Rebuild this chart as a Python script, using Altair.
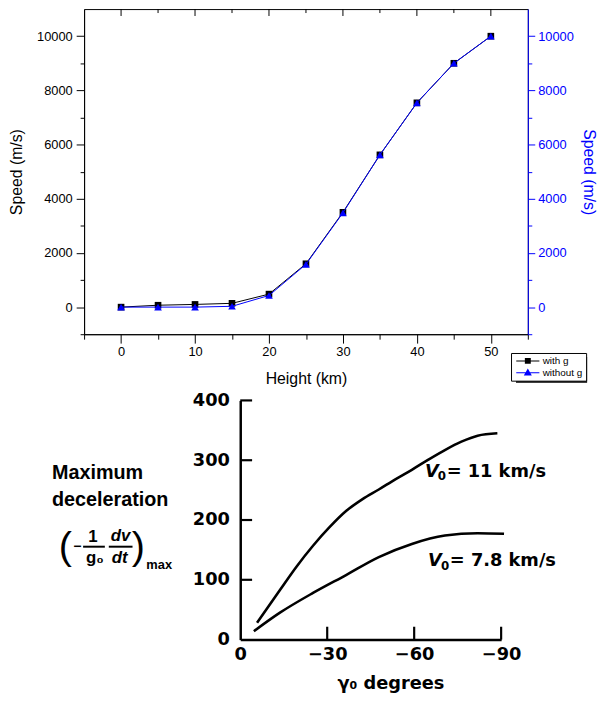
import altair as alt
import pandas as pd

# ---------------- top chart data ----------------
heights = [0, 5, 10, 15, 20, 25, 30, 35, 40, 45, 50]
speed_with_g = [0, 70, 100, 140, 480, 1600, 3500, 5620, 7540, 9000, 10000]
speed_without_g = [0, 0, 0, 30, 430, 1580, 3480, 5620, 7540, 9000, 10000]
series_names = ["with g", "without g"]
height_tick_values = [-5, 0, 5, 10, 15, 20, 25, 30, 35, 40, 45, 50, 55]
height_ticks_major = [0, 10, 20, 30, 40, 50]
height_ticks_minor = [5, 15, 25, 35, 45]
speed_tick_values = [-1000, 0, 1000, 2000, 3000, 4000, 5000, 6000, 7000, 8000, 9000, 10000]

# ---------------- bottom chart data ----------------
gamma_11 = [-5.8, -13.7, -19.4, -25.1, -30.8, -36.5, -42.2, -47.8, -53.5, -59.2, -64.9, -70.6, -76.3, -81.9, -88.7]
decel_11 = [28, 83, 122, 157, 188, 215, 235, 251, 268, 284, 301, 317, 331, 341, 345]
gamma_78 = [-4.7, -13.7, -25.1, -36.5, -47.8, -59.2, -70.6, -81.9, -91]
decel_78 = [14, 45, 78, 108, 138, 160, 174, 178, 177]
gamma_ticks = [0, -30, -60, -90]
decel_ticks = [0, 100, 200, 300, 400]
gamma_inner_ticks = [-30, -60, -90]
decel_inner_ticks = [100, 200, 300, 400]
curve_label_text = ["= 11 km/s", "= 7.8 km/s"]
curve_label_gamma = [-63.7, -64.8]
curve_label_decel = [281, 132]

FONT = "Liberation Sans"
BFONT = "DejaVu Sans"
BLUE = "#0000ff"
W, H = 449, 329
BW, BH = 449, 242

# ================= TOP CHART =================
df_with = pd.DataFrame({"height": heights, "speed": speed_with_g})
df_without = pd.DataFrame({"height": heights, "speed": speed_without_g})

xscale = alt.Scale(domain=[-5, 55], nice=False, zero=False)
yscale = alt.Scale(domain=[-1000, 11000], nice=False, zero=False)

x_axis = alt.Axis(
    title="Height (km)", values=height_tick_values, format="d",
    labelExpr="datum.value % 10 === 0 ? datum.label : ''",
    tickSize={"condition": {"test": "datum.value % 10 === 0", "value": 9}, "value": 5},
    grid=False, labelOverlap=False, labelFlush=False,
    domainColor="black", tickColor="black", labelColor="black", titleColor="black",
    labelFont=FONT, titleFont=FONT, labelFontSize=13, titleFontSize=16,
    titleFontWeight="normal", labelPadding=3, titlePadding=12)

left_axis = alt.Axis(
    orient="left", title="Speed (m/s)", values=speed_tick_values, format="d",
    labelExpr="datum.value % 2000 === 0 ? datum.label : ''",
    tickSize={"condition": {"test": "datum.value % 2000 === 0", "value": 8}, "value": 4},
    grid=False, labelOverlap=False,
    domainColor="black", tickColor="black", labelColor="black", titleColor="black",
    labelFont=FONT, titleFont=FONT, labelFontSize=13, titleFontSize=16,
    titleFontWeight="normal", labelPadding=4, titlePadding=12)

right_axis = alt.Axis(
    orient="right", title="Speed (m/s)", values=speed_tick_values, format="d",
    labelExpr="datum.value % 2000 === 0 ? datum.label : ''",
    tickSize={"condition": {"test": "datum.value % 2000 === 0", "value": 7}, "value": 4},
    grid=False, labelOverlap=False,
    domainColor=BLUE, tickColor=BLUE, labelColor=BLUE, titleColor=BLUE,
    labelFont=FONT, titleFont=FONT, labelFontSize=13, titleFontSize=16,
    titleFontWeight="normal", labelPadding=3, titlePadding=7)

x_enc = alt.X("height:Q", scale=xscale, axis=x_axis)

lineA = alt.Chart(df_with).mark_line(color="black", strokeWidth=1).encode(
    x=x_enc, y=alt.Y("speed:Q", scale=yscale, axis=left_axis))
ptsA = alt.Chart(df_with).mark_point(shape="square", filled=True, color="black",
                                      size=45, opacity=1).encode(
    x=x_enc, y=alt.Y("speed:Q", scale=yscale, axis=left_axis))

top_major = alt.Chart(pd.DataFrame({"height": height_ticks_major})).mark_rule(
    color="black", strokeWidth=1).encode(x=x_enc, y=alt.value(0), y2=alt.value(7))
top_minor = alt.Chart(pd.DataFrame({"height": height_ticks_minor})).mark_rule(
    color="black", strokeWidth=1).encode(x=x_enc, y=alt.value(0), y2=alt.value(4))

shadow = alt.Chart(pd.DataFrame({"a": [0]})).mark_rect(color="black").encode(
    x=alt.value(437), x2=alt.value(509), y=alt.value(352), y2=alt.value(378))

layerA = alt.layer(shadow, top_major, top_minor, lineA, ptsA)

lineB = alt.Chart(df_without).mark_line(color=BLUE, strokeWidth=1).encode(
    x=x_enc, y=alt.Y("speed:Q", scale=yscale, axis=right_axis))
ptsB = alt.Chart(df_without).mark_point(shape="triangle-up", filled=True, color=BLUE,
                                         size=60, opacity=1).encode(
    x=x_enc, y=alt.Y("speed:Q", scale=yscale, axis=right_axis))

legend_paths = [
    "M-3.9,-0.17H3.9V0.17H-3.9Z M-1,-1H1V1H-1Z",
    "M-3.9,-0.17H3.9V0.17H-3.9Z M0,-1.45L1.35,0.95H-1.35Z",
]
legend = alt.Legend(
    title=None, orient="none", legendX=432, legendY=348, direction="vertical",
    fillColor="white", strokeColor="black", padding=3,
    labelFont=FONT, labelFontSize=10, labelColor="black",
    symbolOffset=9, labelOffset=10, rowPadding=2, symbolSize=36, symbolStrokeWidth=0)

legend_layer = alt.Chart(pd.DataFrame({"series": series_names, "height": [-100, -100]})).mark_point(
    filled=True, clip=True, opacity=1, size=36).encode(
    x=x_enc,
    color=alt.Color("series:N", scale=alt.Scale(domain=series_names, range=["black", BLUE]), legend=legend),
    shape=alt.Shape("series:N", scale=alt.Scale(domain=series_names, range=legend_paths), legend=legend))

layerB = alt.layer(lineB, ptsB, legend_layer)

top = alt.layer(layerA, layerB).resolve_scale(y="independent").properties(
    width=W, height=H, view=alt.ViewBackground(stroke="black", strokeWidth=1))

# ================= BOTTOM CHART =================
df_11 = pd.DataFrame({"gamma": gamma_11, "decel": decel_11})
df_78 = pd.DataFrame({"gamma": gamma_78, "decel": decel_78})
df_lab = pd.DataFrame({"gamma": curve_label_gamma, "decel": curve_label_decel, "txt": curve_label_text})

gx_scale = alt.Scale(domain=[0, -90], range=[158, 422], nice=False, zero=False)
gy_scale = alt.Scale(domain=[0, 400], nice=False, zero=False)

bx_axis = alt.Axis(
    values=gamma_ticks, format="d", ticks=False, tickSize=0, grid=False,
    labelFlush=False, labelOverlap=False,
    domainColor="black", domainWidth=2.5, labelColor="black",
    labelFont=BFONT, labelFontWeight="bold", labelFontSize=18, labelPadding=6,
    title="γ₀ degrees", titleFont=BFONT, titleFontWeight="bold", titleFontSize=18,
    titleColor="black", titleX=310, titleY=45, titleBaseline="middle")

by_axis = alt.Axis(
    orient="left", offset=-158, values=decel_ticks, format="d", ticks=False, tickSize=0,
    grid=False, labelOverlap=False,
    domainColor="black", domainWidth=2.5, labelColor="black",
    labelFont=BFONT, labelFontWeight="bold", labelFontSize=18, labelPadding=11,
    title=["Maximum", "deceleration"], titleFont=FONT, titleFontWeight="bold",
    titleFontSize=20, titleColor="black", titleAngle=0, titleAlign="left",
    titleBaseline="top", titleX=-191, titleY=63, titleLineHeight=27)

gx_enc = alt.X("gamma:Q", scale=gx_scale, axis=bx_axis)
gy_enc = alt.Y("decel:Q", scale=gy_scale, axis=by_axis)

curve11 = alt.Chart(df_11).mark_line(color="black", strokeWidth=2.6, interpolate="monotone").encode(
    x=gx_enc, y=gy_enc)
curve78 = alt.Chart(df_78).mark_line(color="black", strokeWidth=2.6, interpolate="monotone").encode(
    x=gx_enc, y=gy_enc)

ytick_rules = alt.Chart(pd.DataFrame({"decel": decel_inner_ticks})).mark_rule(
    color="black", strokeWidth=2.2).encode(y=gy_enc, x=alt.value(158), x2=alt.value(170))
xtick_rules = alt.Chart(pd.DataFrame({"gamma": gamma_inner_ticks})).mark_rule(
    color="black", strokeWidth=2.2).encode(x=gx_enc, y=alt.value(BH), y2=alt.value(BH - 13))

lab_V = alt.Chart(df_lab).mark_text(text="V", font=BFONT, fontWeight="bold", fontStyle="italic",
                                    fontSize=18, align="left", baseline="middle", color="black").encode(
    x=gx_enc, y=gy_enc)
lab_0 = alt.Chart(df_lab).mark_text(text="0", font=BFONT, fontWeight="bold", fontSize=12,
                                    align="left", baseline="middle", dx=13, dy=5, color="black").encode(
    x=gx_enc, y=gy_enc)
lab_rest = alt.Chart(df_lab).mark_text(font=BFONT, fontWeight="bold", fontSize=18,
                                       align="left", baseline="middle", dx=22, color="black").encode(
    x=gx_enc, y=gy_enc, text="txt:N")

one = pd.DataFrame({"a": [0]})


def ann(txt, px, py, size=17, weight="bold", style="normal", font=FONT):
    return alt.Chart(one).mark_text(text=txt, font=font, fontSize=size, fontWeight=weight,
                                    fontStyle=style, align="center", baseline="middle",
                                    color="black").encode(x=alt.value(px), y=alt.value(py))


def bar(px1, px2, py):
    return alt.Chart(one).mark_rule(color="black", strokeWidth=2).encode(
        x=alt.value(px1), x2=alt.value(px2), y=alt.value(py))


formula = [
    ann("(", -19, 148, size=40, weight="normal"),
    ann("−", -7, 148, size=14),
    ann("1", 9, 138, size=17),
    bar(-1, 21, 148),
    ann("g₀", 11, 160, size=17),
    ann("dv", 37, 137, size=17, style="italic"),
    bar(25, 49, 148),
    ann("dt", 36, 160, size=17, style="italic"),
    ann(")", 55, 148, size=40, weight="normal"),
    ann("max", 76, 167, size=13),
]

bottom = alt.layer(curve11, curve78, ytick_rules, xtick_rules, lab_V, lab_0, lab_rest,
                   *formula).properties(width=BW, height=BH)

chart = alt.vconcat(top, bottom, spacing=67, bounds="flush").properties(
    padding={"top": -4, "left": 0, "right": 0, "bottom": 0},
    background="white").configure_view(strokeWidth=0)

chart.save("out.html", embed_options={"renderer": "svg", "actions": False})
